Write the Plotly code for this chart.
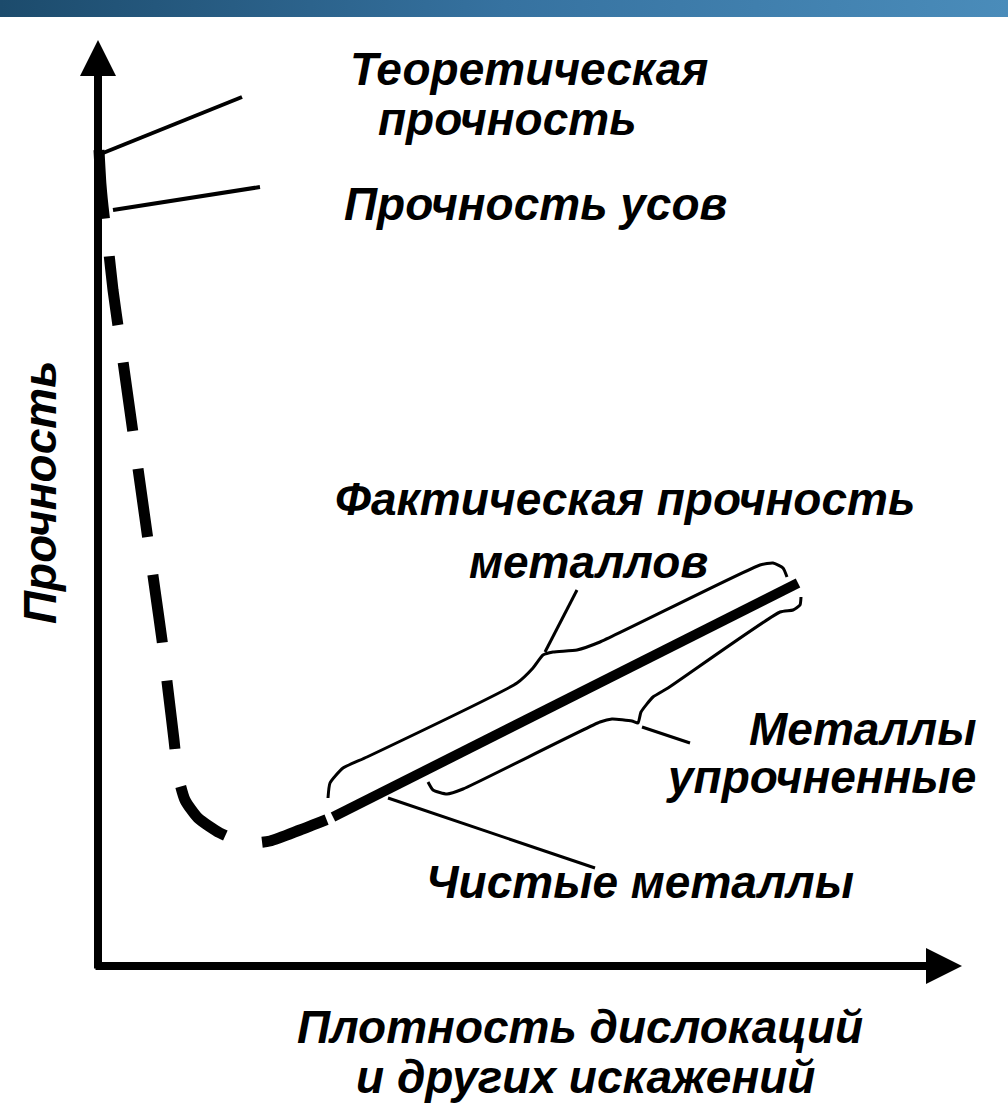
import plotly.graph_objs as go

# dislocation density (x) vs strength (y), schematic units
dash_x = [0.01, 0.03, 0.06, 0.10, 0.15, 0.22, 0.29, 0.36, 0.43, 0.50, 0.57, 0.64,
          0.70, 0.76, 0.80, 0.87, 1.00, 1.22, 1.47, 1.72, 2.02, 2.35]
dash_y = [8.16, 7.81, 7.51, 7.21, 6.76, 6.26, 5.76, 5.26, 4.76, 4.26, 3.76, 3.26,
          2.76, 2.26, 1.91, 1.66, 1.48, 1.33, 1.23, 1.25, 1.36, 1.49]

pure_x = [2.35, 7.00]
pure_y = [1.49, 3.83]

upper_x = [2.30, 2.32, 2.45, 2.69, 4.19, 4.35, 4.45, 4.55, 4.79, 5.02, 6.62, 6.75, 6.85, 6.89]
upper_y = [1.68, 1.83, 1.98, 2.09, 2.83, 2.98, 3.11, 3.14, 3.16, 3.24, 4.01, 4.03, 3.98, 3.89]

lower_x = [3.30, 3.35, 3.49, 3.65, 5.02, 5.14, 5.34, 5.40, 5.43, 5.55, 5.70, 6.82, 6.95, 7.02, 7.03]
lower_y = [1.84, 1.76, 1.72, 1.77, 2.44, 2.47, 2.45, 2.43, 2.54, 2.69, 2.78, 3.54, 3.56, 3.61, 3.69]

# leader lines: (x0, y0, x1, y1, width)
leaders = [
    (0.05, 8.13, 1.44, 8.69, 4),
    (0.15, 7.56, 1.62, 7.79, 4),
    (4.47, 3.14, 4.79, 3.76, 3),
    (5.44, 2.39, 5.92, 2.23, 3),
    (2.90, 1.68, 4.97, 0.98, 3),
]

# labels: text, x, y, anchor, angle
labels = [
    ('Теоретическая', 4.31, 8.97, 'center', 0),
    ('прочность', 4.09, 8.47, 'center', 0),
    ('Прочность усов', 4.37, 7.62, 'center', 0),
    ('Фактическая прочность', 5.27, 4.67, 'center', 0),
    ('металлов', 4.90, 4.04, 'center', 0),
    ('Металлы', 8.80, 2.37, 'right', 0),
    ('упрочненные', 8.80, 1.89, 'right', 0),
    ('Чистые металлы', 5.42, 0.84, 'center', 0),
    ('Плотность дислокаций', 4.82, -0.61, 'center', 0),
    ('и других искажений', 4.87, -1.11, 'center', 0),
    ('Прочность', -0.58, 4.74, 'center', -90),
]

x_tip = 8.64
y_tip = 9.26

FONT = 'Liberation Sans, Arial, sans-serif'

data = []
data.append(go.Scatter(x=[-0.98, 9.10, 9.10, -0.98, -0.98], y=[9.49, 9.49, 9.70, 9.70, 9.49],
                       mode='lines', line=dict(width=0), fill='toself',
                       fillgradient=dict(type='horizontal',
                                         colorscale=[[0, '#1c4b6c'], [0.5, '#3672a0'], [1, '#4a8cba']]),
                       hoverinfo='skip', showlegend=False))
data.append(go.Scatter(x=dash_x, y=dash_y, mode='lines',
                       line=dict(color='black', width=11, dash='69px,38px', shape='spline', smoothing=0.6),
                       hoverinfo='skip', showlegend=False))
data.append(go.Scatter(x=pure_x, y=pure_y, mode='lines', line=dict(color='black', width=10),
                       hoverinfo='skip', showlegend=False))
data.append(go.Scatter(x=upper_x, y=upper_y, mode='lines',
                       line=dict(color='black', width=3, shape='spline', smoothing=0.5),
                       hoverinfo='skip', showlegend=False))
data.append(go.Scatter(x=lower_x, y=lower_y, mode='lines',
                       line=dict(color='black', width=3, shape='spline', smoothing=0.5),
                       hoverinfo='skip', showlegend=False))
for x0, y0, x1, y1, w in leaders:
    data.append(go.Scatter(x=[x0, x1], y=[y0, y1], mode='lines', line=dict(color='black', width=w),
                           hoverinfo='skip', showlegend=False))

annotations = []
# axes with arrows
annotations.append(dict(x=x_tip, y=0, ax=-0.04, ay=0, xref='x', yref='y', axref='x', ayref='y', text='',
                        showarrow=True, arrowhead=2, arrowsize=0.9, arrowwidth=8, arrowcolor='black'))
annotations.append(dict(x=0, y=y_tip, ax=0, ay=-0.04, xref='x', yref='y', axref='x', ayref='y', text='',
                        showarrow=True, arrowhead=2, arrowsize=0.9, arrowwidth=8, arrowcolor='black'))
for text, x, y, anchor, angle in labels:
    annotations.append(dict(x=x, y=y, xref='x', yref='y', text='<b><i>' + text + '</i></b>', showarrow=False,
                            xanchor=anchor, yanchor='middle', textangle=angle,
                            font=dict(family=FONT, size=46, color='black')))

layout = go.Layout(width=1008, height=1103, margin=dict(l=0, r=0, t=0, b=0),
                   paper_bgcolor='white', plot_bgcolor='white',
                   xaxis=dict(range=[-0.98, 9.10], visible=False, fixedrange=True),
                   yaxis=dict(range=[-1.37, 9.66], visible=False, fixedrange=True),
                   annotations=annotations, showlegend=False)
fig = go.Figure(data=data, layout=layout)
fig.write_html('out.html', config={'displayModeBar': False},
               post_script="document.body.style.margin='0';")
